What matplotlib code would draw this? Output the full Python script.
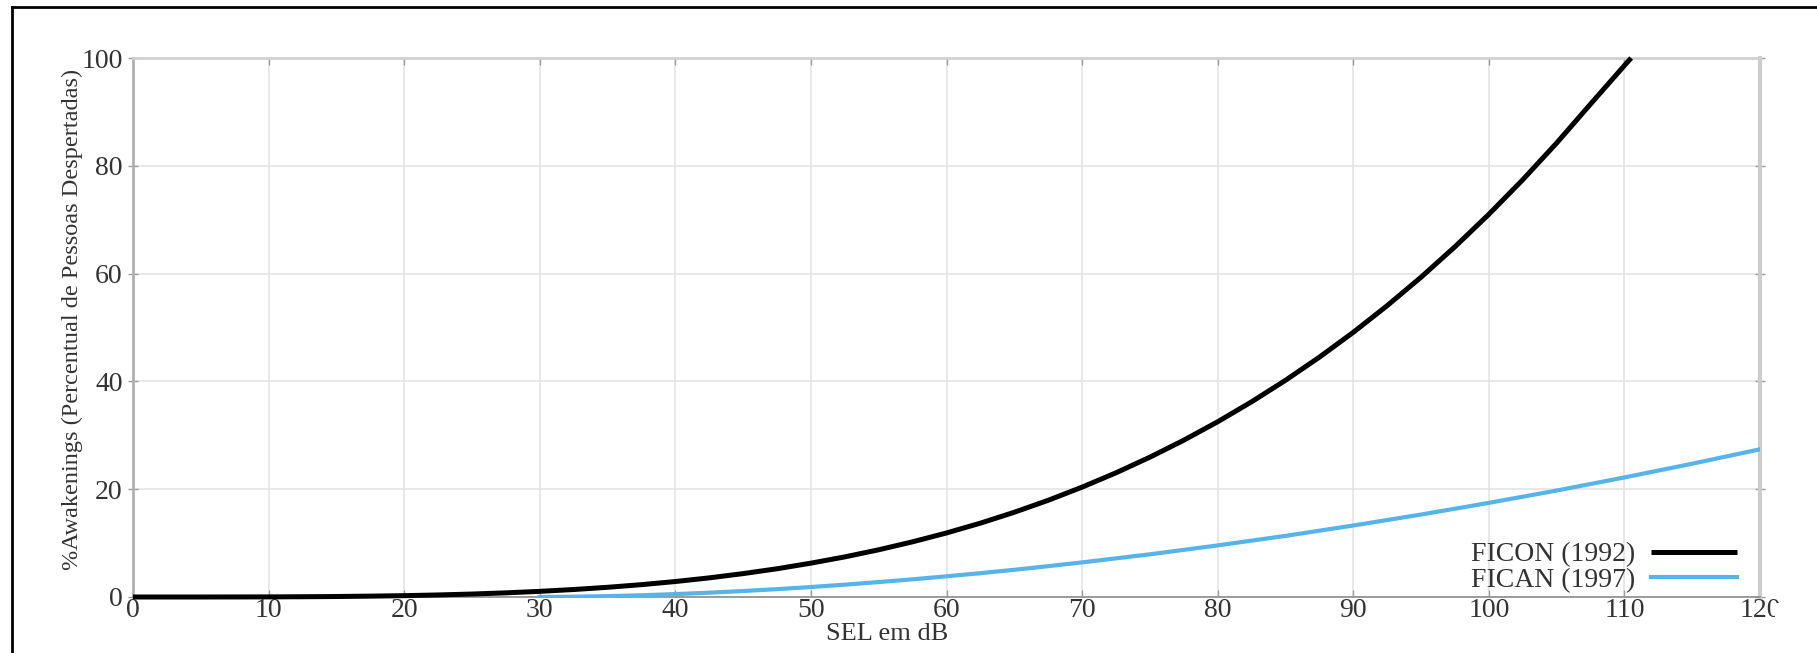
import numpy as np
import matplotlib
matplotlib.use('Agg')
import matplotlib.pyplot as plt
from matplotlib.lines import Line2D
from matplotlib.patches import Rectangle

# FICON (1992), valores
sel_ficon = [0, 5, 7.5, 10, 12.5, 15, 17.5, 20, 22.5, 25, 27.5, 30, 32.5, 35,
             37.5, 40, 42.5, 45, 47.5, 50, 52.5, 55, 57.5, 60, 62.5, 65, 67.5,
             70, 72.5, 75, 77.5, 80, 82.5, 85, 87.5, 90, 92.5, 95, 97.5, 100,
             102.5, 105, 107.5, 110, 110.5]
aw_ficon = [0, 0.0, 0.01, 0.02, 0.05, 0.09, 0.16, 0.25, 0.38, 0.55, 0.77,
            1.05, 1.39, 1.80, 2.29, 2.87, 3.55, 4.34, 5.24, 6.28, 7.44, 8.76,
            10.24, 11.88, 13.70, 15.72, 17.94, 20.38, 23.04, 25.94, 29.09,
            32.51, 36.21, 40.20, 44.49, 49.10, 54.05, 59.33, 64.98, 71.0,
            77.41, 84.22, 91.45, 98.6, 100]

# FICAN (1997)
sel_fican = [30, 32.5, 35, 37.5, 40, 42.5, 45, 47.5, 50, 52.5, 55, 57.5, 60,
             62.5, 65, 67.5, 70, 75, 80, 85, 90, 95, 100, 105, 110, 115, 120]
aw_fican = [0, 0.05, 0.16, 0.32, 0.54, 0.80, 1.11, 1.46, 1.85, 2.29, 2.77,
            3.28, 3.84, 4.42, 5.05, 5.72, 6.42, 7.92, 9.57, 11.34, 13.26,
            15.30, 17.46, 19.75, 22.18, 24.73, 27.40]

xticks = list(range(0, 121, 10))
yticks = list(range(0, 101, 20))

plt.rcParams['font.family'] = ['Liberation Serif', 'DejaVu Serif']

fig = plt.figure(figsize=(18.17, 6.53), dpi=100)
ax = fig.add_axes([133 / 1817, 56 / 653, 1627 / 1817, 539 / 653])

cor_texto = '#333333'
azul = '#56b4e9'

l_fican, = ax.plot(sel_fican, aw_fican, color=azul, lw=3.0, zorder=3)
l_ficon, = ax.plot(sel_ficon, aw_ficon, color='black', lw=3.6, zorder=4,
                   clip_on=False, solid_capstyle='butt')

ax.set_xlim(0, 120)
ax.set_ylim(0, 100)
ax.set_xticks(xticks)
ax.set_yticks(yticks)
ax.grid(True, color='#e4e4e4', lw=1.2)
ax.set_axisbelow(True)

ax.tick_params(axis='y', which='both', left=True, right=True, direction='inout',
               length=7, width=1, color='#9a9a9a', labelsize=20,
               labelcolor=cor_texto, pad=4)
ax.tick_params(axis='x', which='both', bottom=True, top=True, direction='in',
               length=5, width=1, color='#9a9a9a', labelsize=20,
               labelcolor=cor_texto, pad=1)

ax.spines['left'].set_color('#b0b0b0')
ax.spines['left'].set_linewidth(2)
ax.spines['bottom'].set_color('#8c8c8c')
ax.spines['bottom'].set_linewidth(1.2)
ax.spines['top'].set_color('#d0d0d0')
ax.spines['top'].set_linewidth(2)
ax.spines['right'].set_color('#cccccc')
ax.spines['right'].set_linewidth(3)

ax.set_xlabel('SEL em dB', fontsize=19, color=cor_texto)
ax.xaxis.label.set_va('center')
ax.xaxis.set_label_coords(754 / 1627, -37 / 539)
ax.set_ylabel('%Awakenings (Percentual de Pessoas Despertadas)', fontsize=17.5,
              color=cor_texto)
ax.yaxis.label.set_va('center')
ax.yaxis.set_label_coords(-61 / 1627, 278 / 539)

ax.legend(handles=[l_ficon, l_fican], labels=['FICON (1992)', 'FICAN (1997)'],
          loc='lower right', bbox_to_anchor=(1604 / 1627, 4 / 539),
          markerfirst=False, frameon=False, fontsize=20, labelcolor=cor_texto,
          handlelength=3.1, handletextpad=0.55, labelspacing=0.0,
          borderpad=0, borderaxespad=0)

# moldura da figura (so esquerda e topo aparecem)
fig.add_artist(Line2D([12 / 1817, 12 / 1817], [0, 646 / 653], color='black', lw=2))
fig.add_artist(Line2D([12 / 1817, 1], [646 / 653, 646 / 653], color='black', lw=2))
# o rotulo 120 aparece cortado na borda
fig.add_artist(Rectangle((1775 / 1817, 0), 42 / 1817, 50 / 653,
                         facecolor='white', edgecolor='none', zorder=10))

plt.savefig('out.png', dpi=100)
